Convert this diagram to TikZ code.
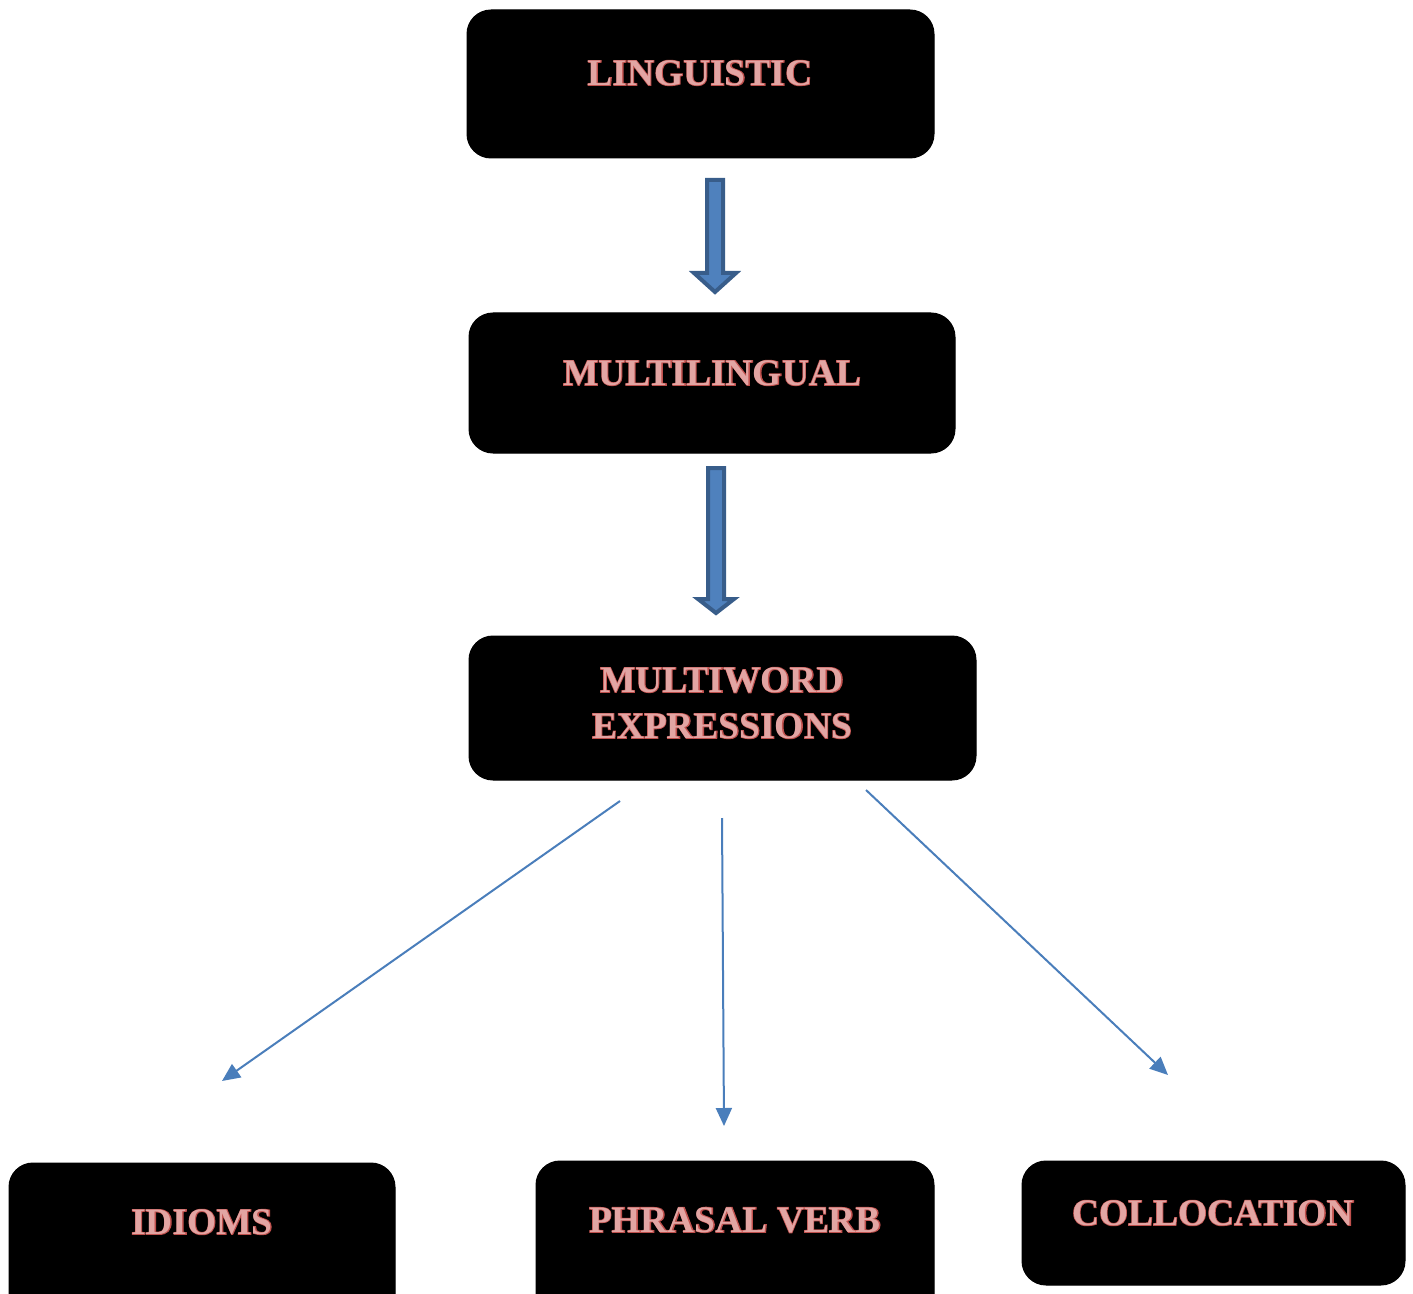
\documentclass[tikz,border=0pt]{standalone}
\usepackage{fontspec}
\setmainfont{Liberation Serif}
\newfontface\outfont{Liberation Serif Bold}[FakeBold=3.5]
\newfontface\infont{Liberation Serif Bold}
\usetikzlibrary{arrows.meta}
\definecolor{txtstroke}{RGB}{192,80,77}
\definecolor{txtfill}{RGB}{226,165,163}
\definecolor{blkfill}{RGB}{79,129,189}
\definecolor{blkdraw}{RGB}{56,93,138}
\definecolor{thin}{RGB}{74,126,187}
\newcommand{\otext}[1]{\makebox[0pt]{\color{txtstroke}\outfont #1}\makebox[0pt]{\color{txtfill}\infont #1}}
\tikzset{
  box/.style={fill=black,draw=black,rounded corners=12pt,line width=0.5pt},
  lbl/.style={font=\fontsize{18.7}{23}\selectfont,align=center,inner sep=0pt},
  blockarrow/.style={fill=blkfill,draw=blkdraw,line width=2pt,line join=miter},
  thinarrow/.style={draw=thin,line width=1pt,-{Triangle[length=9pt,width=8pt]}}
}
\begin{document}
\begin{tikzpicture}[x=0.5pt,y=-0.5pt]
\useasboundingbox (0,0) rectangle (1413,1294);
% boxes
\draw[box] (467,10) rectangle (934,158);
\draw[box] (469,313) rectangle (955,453);
\draw[box] (469,636) rectangle (976,780);
\draw[box] (9,1163) rectangle (395,1330);
\draw[box] (536,1161) rectangle (934,1330);
\draw[box] (1022,1161) rectangle (1405,1285);
% labels
\node[lbl] (ling) at (700,73) {\otext{LINGUISTIC}};
\node[lbl] (multi) at (712,373) {\otext{MULTILINGUAL}};
\node[lbl] (mwe) at (722,703) {\otext{MULTIWORD}\\\otext{EXPRESSIONS}};
\node[lbl] (idi) at (202,1222) {\otext{IDIOMS}};
\node[lbl] (phr) at (735,1220) {\otext{PHRASAL VERB}};
\node[lbl] (col) at (1213,1213) {\otext{COLLOCATION}};
% block arrows
\draw[blockarrow] (707,180) -- (723,180) -- (723,273) -- (736,273) -- (715,292) -- (694,273) -- (707,273) -- cycle;
\draw[blockarrow] (708,468) -- (724,468) -- (724,599) -- (734,599) -- (716,613) -- (698,599) -- (708,599) -- cycle;
% thin arrows
\coordinate (s1) at (620,801);
\coordinate (e1) at (222,1081);
\coordinate (s2) at (722,818);
\coordinate (e2) at (724,1126);
\coordinate (s3) at (866,790);
\coordinate (e3) at (1168,1075);
\draw[thinarrow] (s1) -- (e1);
\draw[thinarrow] (s2) -- (e2);
\draw[thinarrow] (s3) -- (e3);
\end{tikzpicture}
\end{document}
